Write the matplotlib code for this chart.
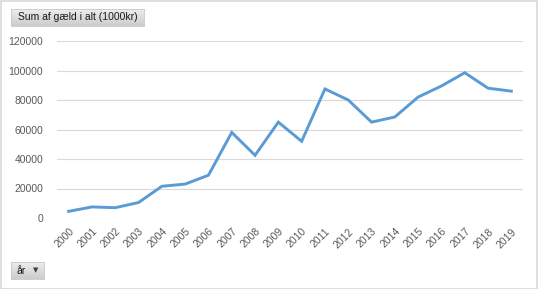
import numpy as np
import matplotlib.pyplot as plt
from matplotlib.patches import Rectangle

plt.rcParams['font.family'] = ['Liberation Sans', 'DejaVu Sans']

YEARS = [str(y) for y in range(2000, 2020)]
GAELD = [4500, 7500, 7000, 10500, 21500, 23000, 29000, 58000, 42500, 65000,
         52000, 87500, 80000, 65000, 68500, 82000, 89500, 98500, 88000, 86000]
Y_TICKS = [0, 20000, 40000, 60000, 80000, 100000, 120000]

W, H = 538, 289
fig = plt.figure(figsize=(W / 100, H / 100), dpi=100)
fig.patch.set_facecolor("white")

# outer frame
fig.patches.append(Rectangle((0.5 / W, 0.5 / H), 1 - 1.5 / W, 1 - 1.5 / H,
                             transform=fig.transFigure, fill=False,
                             edgecolor="#D9D9D9", linewidth=1.2))

ax = fig.add_axes([57 / W, 1 - 218 / H, (523 - 57) / W, (218 - 41) / H])
x = np.arange(len(YEARS))
ax.plot(x, GAELD, color="#5B9BD5", linewidth=2.1, solid_joinstyle="miter")
ax.set_xlim(-0.5, len(YEARS) - 0.5)
ax.set_ylim(0, 120000)
ax.set_yticks(Y_TICKS)
ax.set_yticklabels([str(v) for v in Y_TICKS], fontsize=7.5, color="#595959")
ax.set_xticks(x)
ax.set_xticklabels(YEARS, fontsize=7.5, color="#595959", rotation=45,
                   ha="right", va="top", rotation_mode="anchor")
ax.tick_params(length=0, pad=10)
ax.tick_params(axis="x", pad=6)
ax.grid(axis="y", color="#D9D9D9", linewidth=0.8)
ax.set_axisbelow(True)
for s in ax.spines.values():
    s.set_visible(False)


def button(x0, y0, x1, y1):
    bax = fig.add_axes([x0 / W, 1 - y1 / H, (x1 - x0) / W, (y1 - y0) / H])
    grad = np.linspace(0.93, 0.80, 50).reshape(-1, 1)
    bax.imshow(np.dstack([grad, grad, grad]), aspect="auto",
               extent=[0, 1, 0, 1], origin="upper")
    bax.set_xticks([])
    bax.set_yticks([])
    for s in bax.spines.values():
        s.set_color("#C8C8C8")
        s.set_linewidth(0.6)
    return bax


tb = button(11, 9, 144, 26)
tb.text(0.05, 0.5, "Sum af gæld i alt (1000kr)", fontsize=7.5, color="#1A1A1A",
        ha="left", va="center", transform=tb.transAxes)

yb = button(11, 262, 44, 279)
yb.text(0.17, 0.5, "år", fontsize=7.5, color="#1A1A1A",
        ha="left", va="center", transform=yb.transAxes)
yb.text(0.75, 0.5, "▼", fontsize=5, color="#404040",
        ha="center", va="center", transform=yb.transAxes,
        family=["DejaVu Sans"])

fig.savefig("out.png", dpi=100)
